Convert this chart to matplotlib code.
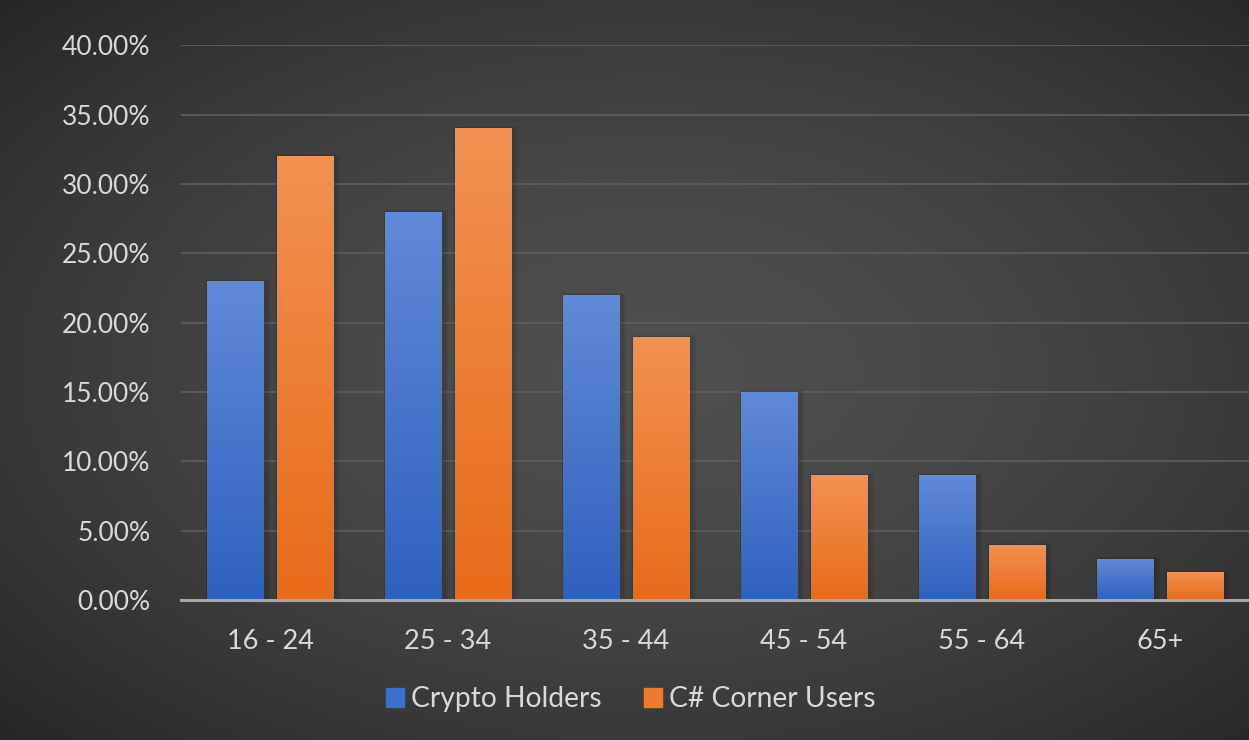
import matplotlib.pyplot as plt
import numpy as np
from matplotlib.patches import Patch

# data
age_groups = ["16 - 24", "25 - 34", "35 - 44", "45 - 54", "55 - 64", "65+"]
crypto_holders = [23, 28, 22, 15, 9, 3]
csharp_users = [32, 34, 19, 9, 4, 2]
series_names = ["Crypto Holders", "C# Corner Users"]

plt.rcParams['font.family'] = ['Lato', 'DejaVu Sans']

fig = plt.figure(figsize=(12.49, 7.40), dpi=100)

# radial background
bg = fig.add_axes([0, 0, 1, 1], zorder=-10)
yy, xx = np.mgrid[0:1:300j, 0:1:500j]
r = np.sqrt(((xx - 0.52) / 0.75) ** 2 + ((yy - 0.5) / 0.75) ** 2)
shade = np.clip(0.31 - 0.17 * r ** 1.6, 0.12, 0.32)
bg.imshow(np.dstack([shade] * 3), extent=[0, 1, 0, 1], aspect='auto')
bg.axis('off')

ax = fig.add_axes([0.145, 0.189, 0.855, 0.75])
ax.patch.set_alpha(0)
x = np.arange(len(age_groups))
w = 0.315
off = 0.195

def grad_bars(vals, pos, top, bottom):
    bars = ax.bar(pos, vals, w, color='none', zorder=3)
    g = np.linspace(0, 1, 256).reshape(-1, 1)
    top = np.array(top); bottom = np.array(bottom)
    img = bottom[None, None, :] * (1 - g[:, :, None]) + top[None, None, :] * g[:, :, None]
    for b in bars:
        x0, y0 = b.get_x(), b.get_y()
        h = b.get_height()
        # soft shadow
        for k, a in [(0.03, 0.07), (0.018, 0.08)]:
            ax.add_patch(plt.Rectangle((x0 - k * 0.3, y0), b.get_width() + k * 1.6, h + k * 4,
                                       color='black', alpha=a, zorder=2, lw=0))
        im = ax.imshow(img, extent=[x0, x0 + b.get_width(), y0, y0 + h],
                       origin='lower', aspect='auto', zorder=3)
        im.set_clip_path(b)
    return bars

grad_bars(crypto_holders, x - off, (0.38, 0.54, 0.85), (0.18, 0.38, 0.75))
grad_bars(csharp_users, x + off, (0.95, 0.57, 0.32), (0.91, 0.42, 0.10))

ax.set_xlim(-0.5, len(age_groups) - 0.5)
ax.set_ylim(0, 40)
ax.set_yticks(np.arange(0, 41, 5))
ax.set_yticklabels([f"{v:.2f}%" for v in np.arange(0, 41, 5)])
ax.set_xticks(x)
ax.set_xticklabels(age_groups)
ax.grid(axis='y', color='#5c5c5c', lw=1.3, zorder=0)
ax.set_axisbelow(True)
for s in ['top', 'right', 'left']:
    ax.spines[s].set_visible(False)
ax.spines['bottom'].set_color('#a6a6a6')
ax.spines['bottom'].set_linewidth(2.2)
ax.spines['bottom'].set_zorder(4)
ax.tick_params(length=0, labelsize=19.5, colors='#d9d9d9')
ax.tick_params(axis='y', labelsize=19, pad=22)
ax.tick_params(axis='x', pad=21)

handles = [Patch(color=(0.24, 0.44, 0.80)), Patch(color=(0.93, 0.48, 0.18))]
fig.legend(handles, series_names, loc='center', bbox_to_anchor=(0.505, 0.055),
           ncol=2, frameon=False, fontsize=20.3, labelcolor='#d9d9d9',
           handlelength=0.65, handleheight=0.65, handletextpad=0.25, columnspacing=1.5)

fig.savefig('out.png', dpi=100)
